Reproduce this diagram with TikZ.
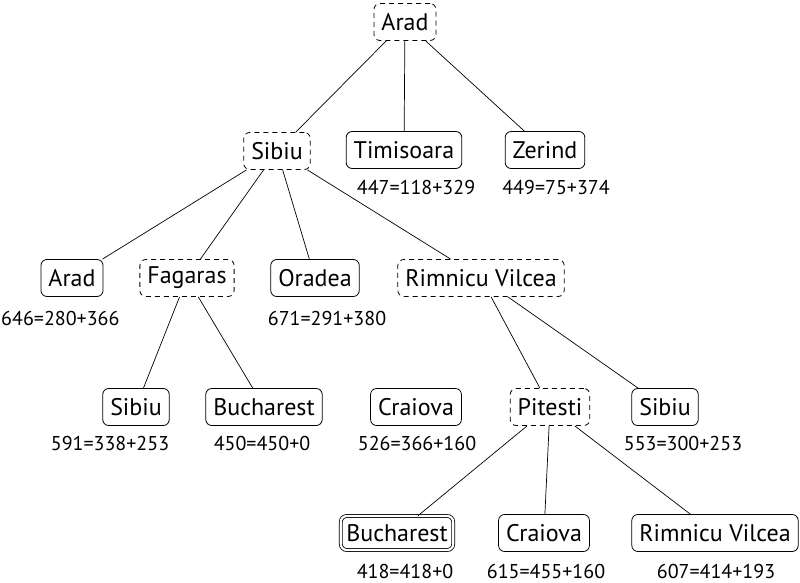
\documentclass[tikz,border=0pt]{standalone}
\usepackage{fontspec}
\setmainfont{PT Sans}
\usepackage{tikz}
\usetikzlibrary{positioning}

\begin{document}
\begin{tikzpicture}[x=1pt, y=-1pt, citynode/.style={draw, rounded corners=6pt, minimum height=37pt, inner xsep=7.5pt, line width=0.8pt, font=\fontsize{24}{27}\selectfont}, opennode/.style={citynode, dash pattern=on 5pt off 4pt}, goalnode/.style={citynode, minimum height=34pt, inner xsep=5.5pt, double, double distance=2.2pt}, fvalue/.style={inner sep=0pt, font=\fontsize{20}{22}\selectfont}]
\useasboundingbox (0,0) rectangle (800,583);

\node[opennode] at (405, 22) (arad) {Arad};
\node[opennode] at (277, 151) (sibiu) {Sibiu};
\node[citynode] at (404, 150) (timisoara) {Timisoara};
\node[citynode] at (545, 150) (zerind) {Zerind};
\node[citynode] at (72, 278) (arad2) {Arad};
\node[opennode] at (187, 278) (fagaras) {Fagaras};
\node[citynode] at (315, 278) (oradea) {Oradea};
\node[opennode] at (481, 278) (rimnicu) {Rimnicu Vilcea};
\node[citynode] at (136, 407) (sibiu3) {Sibiu};
\node[citynode] at (264, 407) (bucharest3) {Bucharest};
\node[citynode] at (416, 407) (craiova3) {Craiova};
\node[opennode] at (550, 407) (pitesti) {Pitesti};
\node[citynode] at (665, 407) (sibiu3b) {Sibiu};
\node[goalnode] at (397, 533) (bucharest4) {Bucharest};
\node[citynode] at (544, 533) (craiova4) {Craiova};
\node[citynode] at (715, 533) (rimnicu4) {Rimnicu Vilcea};

\node[fvalue] at (416, 187) (timisoaraf) {447=118+329};
\node[fvalue] at (556, 187) (zerindf) {449=75+374};
\node[fvalue, anchor=west] at (1, 318) (arad2f) {646=280+366};
\node[fvalue] at (327, 318) (oradeaf) {671=291+380};
\node[fvalue] at (110, 443) (sibiu3f) {591=338+253};
\node[fvalue] at (262, 443) (bucharest3f) {450=450+0};
\node[fvalue] at (417, 443) (craiova3f) {526=366+160};
\node[fvalue] at (683, 443) (sibiu3bf) {553=300+253};
\node[fvalue] at (405, 571) (bucharest4f) {418=418+0};
\node[fvalue] at (546, 571) (craiova4f) {615=455+160};
\node[fvalue] at (716, 571) (rimnicu4f) {607=414+193};

\draw[line width=0.7pt] (arad) -- (sibiu);
\draw[line width=0.7pt] (arad) -- (timisoara);
\draw[line width=0.7pt] (arad) -- (zerind);
\draw[line width=0.7pt] (sibiu) -- (arad2);
\draw[line width=0.7pt] (sibiu) -- (fagaras);
\draw[line width=0.7pt] (sibiu) -- (oradea);
\draw[line width=0.7pt] (sibiu) -- (rimnicu);
\draw[line width=0.7pt] (fagaras) -- (sibiu3);
\draw[line width=0.7pt] (fagaras) -- (bucharest3);
\draw[line width=0.7pt] (rimnicu) -- (pitesti);
\draw[line width=0.7pt] (rimnicu) -- (sibiu3b);
\draw[line width=0.7pt] (pitesti) -- (bucharest4);
\draw[line width=0.7pt] (pitesti) -- (craiova4);
\draw[line width=0.7pt] (pitesti) -- (rimnicu4);

\end{tikzpicture}
\end{document}
